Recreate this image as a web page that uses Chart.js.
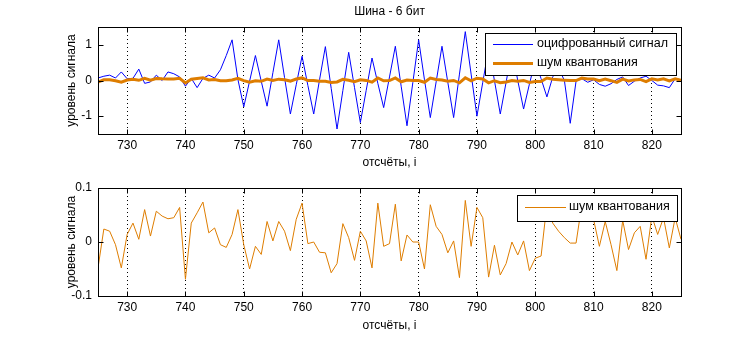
<!DOCTYPE html>
<html><head><meta charset="utf-8">
<script src="https://cdn.jsdelivr.net/npm/chart.js@4/dist/chart.umd.min.js"></script>
<style>
html,body{margin:0;padding:0;background:#fff;}
#wrap{position:relative;width:753px;height:343px;overflow:hidden;background:#fff;}
canvas{position:absolute;left:0;}
</style></head><body>
<div id="wrap">
<canvas id="c1" width="753" height="172" style="top:0px"></canvas>
<canvas id="c2" width="753" height="171" style="top:172px"></canvas>
</div>
<script>
// ---------- data ----------
const sampleIndex = [
  725,726,727,728,729,730,731,732,733,734,
  735,736,737,738,739,740,741,742,743,744,
  745,746,747,748,749,750,751,752,753,754,
  755,756,757,758,759,760,761,762,763,764,
  765,766,767,768,769,770,771,772,773,774,
  775,776,777,778,779,780,781,782,783,784,
  785,786,787,788,789,790,791,792,793,794,
  795,796,797,798,799,800,801,802,803,804,
  805,806,807,808,809,810,811,812,813,814,
  815,816,817,818,819,820,821,822,823,824,
  825
];
const digitizedSignal = [
  0.07, 0.12, 0.15, 0.07, 0.24, 0.05, 0.06, 0.32, -0.08, -0.04,
  0.15, 0.00, 0.24, 0.19, 0.10, -0.16, 0.06, -0.20, 0.06, 0.15,
  0.07, 0.30, 0.70, 1.14, 0.03, -0.74, -0.02, 0.70, -0.02, -0.72,
  0.22, 1.14, 0.08, -0.94, -0.12, 0.68, -0.14, -0.94, 0.02, 0.95,
  -0.22, -1.36, -0.28, 0.79, -0.20, -1.18, -0.28, 0.63, -0.08, -0.76,
  0.10, 0.96, -0.16, -1.27, -0.06, 1.14, 0.02, -1.04, -0.04, 0.96,
  -0.05, -1.04, 0.18, 1.37, 0.18, -1.00, -0.05, 0.90, 0.00, -0.94,
  -0.05, 0.85, 0.00, -0.80, -0.10, 0.55, 0.05, -0.46, 0.10, 0.35,
  0.00, -1.20, -0.02, 0.05, -0.05, 0.02, -0.11, -0.16, -0.09, 0.03,
  0.10, -0.14, -0.02, 0.07, 0.12, 0.00, -0.13, -0.15, -0.20, 0.05,
  0.02
];
const quantNoise = [
  -0.048, 0.024, 0.020, -0.005, -0.048, 0.014, 0.035, 0.005, 0.060, 0.011,
  0.057, 0.048, 0.043, 0.045, 0.064, -0.069, 0.035, 0.054, 0.074, 0.017,
  0.026, -0.005, -0.010, 0.014, 0.060, -0.005, -0.050, -0.008, -0.023, 0.038,
  0.002, 0.038, 0.020, -0.016, 0.042, 0.072, -0.003, 0.000, -0.019, -0.020,
  -0.057, -0.040, 0.034, 0.008, -0.034, 0.020, 0.002, -0.048, 0.072, -0.008,
  -0.003, 0.070, -0.035, 0.013, 0.000, 0.000, -0.050, 0.069, 0.029, 0.014,
  -0.020, 0.002, -0.066, 0.077, -0.008, 0.064, 0.045, -0.065, -0.006, -0.061,
  -0.040, 0.000, -0.024, 0.002, -0.053, -0.030, -0.026, 0.070, 0.035, 0.020,
  0.008, -0.002, -0.002, 0.070, 0.045, 0.042, -0.008, 0.038, -0.005, -0.053,
  0.040, -0.014, 0.017, 0.029, -0.032, 0.048, 0.014, 0.045, -0.011, 0.045,
  0.005
];
const xTickValues = [730, 740, 750, 760, 770, 780, 790, 800, 810, 820];
const topYTicks = [-1, 0, 1];
const topYTickLabels = ['-1', '0', '1'];
const bottomYTicks = [-0.1, 0, 0.1];
const bottomYTickLabels = ['-0.1', '0', '0.1'];
const topTitle = 'Шина - 6 бит';
const xTitle = 'отсчёты, i';
const yTitle = 'уровень сигнала';
const signalLabel = 'оцифрованный сигнал';
const noiseLabel = 'шум квантования';

// ---------- styling ----------
const FAMILY = "'Liberation Sans', Arial, Helvetica, sans-serif";
const FS = 12;
const BLUE = '#0000ff';
const ORANGE = 'rgb(222,125,0)';
Chart.defaults.font.family = FAMILY;
Chart.defaults.font.size = FS;
Chart.defaults.color = '#000';

function pts(ys) { return sampleIndex.map((x, i) => ({ x: x, y: ys[i] })); }

const frameTicks = {
  id: 'frameTicks',
  afterDatasetsDraw(chart) {
    const { ctx, chartArea: a, scales } = chart;
    const x = scales.x, y = scales.y;
    ctx.save();
    ctx.setLineDash([]);
    ctx.strokeStyle = '#000';
    ctx.lineWidth = 1;
    const L = Math.floor(a.left) + 0.5, R = Math.floor(a.right) + 0.5;
    const T = Math.floor(a.top) + 0.5, B = Math.floor(a.bottom) + 0.5;
    ctx.strokeRect(L, T, R - L, B - T);
    const len = 5;
    ctx.beginPath();
    x.ticks.forEach(t => {
      const px = Math.round(x.getPixelForValue(t.value)) + 0.5;
      ctx.moveTo(px, B); ctx.lineTo(px, B - len);
      ctx.moveTo(px, T); ctx.lineTo(px, T + len);
    });
    y.ticks.forEach(t => {
      const py = Math.round(y.getPixelForValue(t.value)) + 0.5;
      ctx.moveTo(L, py); ctx.lineTo(L + len, py);
      ctx.moveTo(R, py); ctx.lineTo(R - len, py);
    });
    ctx.stroke();
    ctx.restore();
  }
};

const boxLegend = {
  id: 'boxLegend',
  afterDraw(chart, args, o) {
    const { ctx, chartArea: a } = chart;
    const items = o.items.map(i => chart.data.datasets[i]);
    ctx.save();
    ctx.font = o.fontSize + 'px ' + FAMILY;
    const tw = Math.max(...items.map(d => ctx.measureText(d.label).width));
    const w = o.padL + o.lineLen + o.gap + tw + o.padR;
    const right = Math.floor(a.right) - o.rightGap;
    const left = Math.round(right - w);
    const top = Math.floor(a.top) + o.topGap;
    ctx.fillStyle = '#fff';
    ctx.fillRect(left, top, right - left, o.height);
    ctx.strokeStyle = '#000';
    ctx.lineWidth = 1;
    ctx.strokeRect(left + 0.5, top + 0.5, right - left, o.height);
    items.forEach((d, k) => {
      const cy = top + o.firstRow + k * o.rowStep;
      ctx.strokeStyle = d.borderColor;
      ctx.lineWidth = d.borderWidth;
      ctx.beginPath();
      ctx.moveTo(left + o.padL, cy + 0.5);
      ctx.lineTo(left + o.padL + o.lineLen, cy + 0.5);
      ctx.stroke();
      ctx.fillStyle = '#000';
      ctx.textBaseline = 'middle';
      ctx.textAlign = 'left';
      ctx.fillText(d.label, left + o.padL + o.lineLen + o.gap, cy);
    });
    ctx.restore();
  }
};

function xScale(height, titleBottom) {
  return {
    type: 'linear', min: 725, max: 825,
    afterBuildTicks: s => { s.ticks = xTickValues.map(v => ({ value: v })); },
    afterFit: s => { s.height = height; },
    grid: { display: true, color: '#000', lineWidth: 1, drawTicks: false, drawOnChartArea: true },
    border: { display: false, dash: [1, 3] },
    ticks: { padding: 4, maxRotation: 0, autoSkip: false, color: '#000', font: { size: FS },
             callback: (v) => String(v) },
    title: { display: true, text: xTitle, color: '#000', font: { size: FS },
             padding: { top: 0, bottom: titleBottom } }
  };
}
function yScale(min, max, ticks, labels) {
  return {
    min: min, max: max,
    afterBuildTicks: s => { s.ticks = ticks.map(v => ({ value: v })); },
    afterFit: s => { s.width = 98; },
    grid: { display: false, drawTicks: false },
    border: { display: false },
    ticks: { padding: 6, color: '#000', font: { size: FS }, callback: (v, i) => labels[i] },
    title: { display: true, text: yTitle, color: '#000', font: { size: FS },
             padding: { top: 64, bottom: 0 } }
  };
}

new Chart(document.getElementById('c1'), {
  type: 'line',
  data: {
    datasets: [
      { label: signalLabel, data: pts(digitizedSignal), borderColor: BLUE, borderWidth: 1,
        pointRadius: 0, tension: 0, fill: false, order: 1 },
      { label: noiseLabel, data: pts(quantNoise), borderColor: ORANGE, borderWidth: 3,
        pointRadius: 0, tension: 0, fill: false, order: 0 }
    ]
  },
  options: {
    responsive: false, animation: false, events: [],
    layout: { padding: { top: 0, right: 72, left: 0, bottom: 0 } },
    scales: { x: xScale(38, 1.8), y: yScale(-1.5, 1.5, topYTicks, topYTickLabels) },
    plugins: {
      legend: { display: false }, tooltip: { enabled: false },
      title: { display: true, text: topTitle, fullSize: false, color: '#000',
               font: { size: FS, weight: 'normal' }, padding: { top: 4.5, bottom: 8.1 } },
      boxLegend: { items: [0, 1], fontSize: 12.5, padL: 8, lineLen: 40, gap: 4, padR: 8,
                   rightGap: 5, topGap: 6, height: 42, firstRow: 11, rowStep: 19 }
    }
  },
  plugins: [frameTicks, boxLegend]
});

new Chart(document.getElementById('c2'), {
  type: 'line',
  data: {
    datasets: [
      { label: noiseLabel, data: pts(quantNoise), borderColor: ORANGE, borderWidth: 1,
        pointRadius: 0, tension: 0, fill: false }
    ]
  },
  options: {
    responsive: false, animation: false, events: [],
    layout: { padding: { top: 16, right: 72, left: 0, bottom: 0 } },
    scales: { x: xScale(47, 9.8), y: yScale(-0.1, 0.1, bottomYTicks, bottomYTickLabels) },
    plugins: {
      legend: { display: false }, tooltip: { enabled: false }, title: { display: false },
      boxLegend: { items: [0], fontSize: 12.5, padL: 8, lineLen: 41, gap: 3, padR: 7,
                   rightGap: 4, topGap: 7, height: 26, firstRow: 12, rowStep: 19 }
    }
  },
  plugins: [frameTicks, boxLegend]
});
</script>
</body></html>
